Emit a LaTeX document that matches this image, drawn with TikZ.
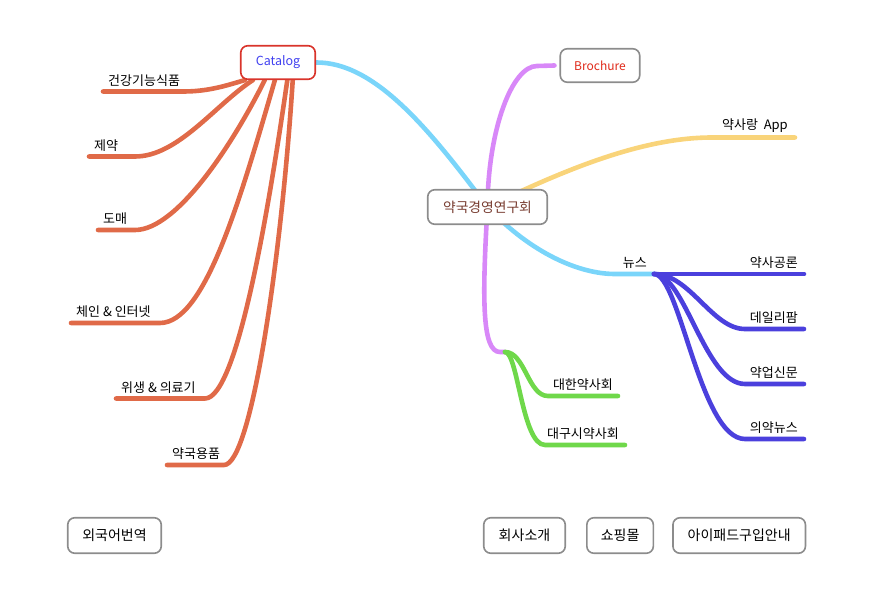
\documentclass[tikz,border=0pt]{standalone}
\usepackage{fontspec}
\setmainfont{Noto Sans CJK KR}
\usetikzlibrary{positioning,backgrounds}

\definecolor{skyblue}{RGB}{122,213,250}
\definecolor{lilac}{RGB}{216,136,248}
\definecolor{honey}{RGB}{249,212,122}
\definecolor{indigo}{RGB}{75,64,221}
\definecolor{brick}{RGB}{224,106,72}
\definecolor{leafgreen}{RGB}{111,216,74}
\definecolor{boxgray}{RGB}{140,140,140}
\definecolor{catred}{RGB}{217,52,43}
\definecolor{catblue}{RGB}{64,64,240}
\definecolor{brored}{RGB}{224,42,26}
\definecolor{hubbrown}{RGB}{120,60,48}

\begin{document}
\begin{tikzpicture}[x=1pt,y=-1pt,
    box/.style={draw=boxgray, line width=1.6pt, rounded corners=7pt, fill=white,
      inner sep=0pt, font=\fontsize{12}{14}\selectfont},
    branch/.style={line width=4.6pt, line cap=round},
    leaf/.style={inner sep=0pt, font=\fontsize{13}{15}\selectfont}]
  \useasboundingbox (0,0) rectangle (870,601);
  \node [box, minimum width=119.5pt, minimum height=34.5pt, text=hubbrown,
    font=\fontsize{13.8}{15}\selectfont] (hub) at (487.5,207) {약국경영연구회};
  \node [box, draw=catred, text=catblue, minimum width=74.5pt, minimum height=33.5pt,
    font=\fontsize{12.5}{14}\selectfont] (cat) at (278,62.5) {Catalog};
  \node [box, text=brored, minimum width=79.5pt,
    minimum height=33.5pt] (broch) at (600,65.5) {Brochure};
  % bottom row
  \node [box, minimum width=93.5pt, minimum height=35.5pt,
    font=\fontsize{14}{16}\selectfont] (trans) at (114.5,535.5) {외국어번역};
  \node [box, minimum width=81.5pt, minimum height=35.5pt,
    font=\fontsize{14}{16}\selectfont] (about) at (524.5,535.5) {회사소개};
  \node [box, minimum width=66.5pt, minimum height=35.5pt, right=20pt of about,
    font=\fontsize{14}{16}\selectfont] (shop) {쇼핑몰};
  \node [box, minimum width=132.5pt, minimum height=35.5pt, right=18pt of shop,
    font=\fontsize{14}{16}\selectfont] (ipad) {아이패드구입안내};

  % catalog leaves
  \coordinate (e1) at (103,91.5);
  \coordinate (e2) at (89,156.5);
  \coordinate (e3) at (98,230);
  \coordinate (e4) at (71,323);
  \coordinate (e5) at (116,398.5);
  \coordinate (e6) at (167,465);
  \node [leaf, above right=5pt and 5pt of e1] (l1) {건강기능식품};
  \node [leaf, above right=5pt and 5pt of e2] (l2) {제약};
  \node [leaf, above right=5pt and 5pt of e3] (l3) {도매};
  \node [leaf, above right=5pt and 5pt of e4] (l4) {체인 \& 인터넷};
  \node [leaf, above right=5pt and 5pt of e5] (l5) {위생 \& 의료기};
  \node [leaf, above right=5pt and 5pt of e6] (l6) {약국용품};

  % hub leaves
  \coordinate (app) at (795,137.5);
  \coordinate (news) at (654,274);
  \coordinate (assoc) at (505,352);
  \node [leaf, above left=5pt and 7pt of app] (lapp) {약사랑\ \ App};
  \node [leaf, above left=5pt and 7pt of news] (lnews) {뉴스};
  \coordinate (n1) at (804,274);
  \coordinate (n2) at (804,329);
  \coordinate (n3) at (804,384);
  \coordinate (n4) at (804,439);
  \node [leaf, above left=5pt and 6pt of n1] (m1) {약사공론};
  \node [leaf, above left=5pt and 6pt of n2] (m2) {데일리팜};
  \node [leaf, above left=5pt and 6pt of n3] (m3) {약업신문};
  \node [leaf, above left=5pt and 6pt of n4] (m4) {의약뉴스};
  \coordinate (g1) at (618,396);
  \coordinate (g2) at (625,445);
  \node [leaf, above left=5pt and 5pt of g1] (h1) {대한약사회};
  \node [leaf, above left=5pt and 6pt of g2] (h2) {대구시약사회};

  \begin{scope}[on background layer]
    \draw [branch, skyblue] (cat.east) .. controls (375,62) and (430,130) .. (hub.center)
      .. controls (532,254) and (580,274) .. (615,274) -- (news);
    \draw [branch, lilac] (hub.center) .. controls (488,130) and (512,66) .. (537,66)
      -- ([xshift=-5pt]broch.west);
    \draw [branch, lilac] (hub.center) .. controls (482,300) and (482,352) .. (500,352) -- (assoc);
    \draw [branch, honey] (hub.center) .. controls (560,172) and (640,137.5) .. (712,137.5) -- (app);
    \draw [branch, leafgreen] (assoc) .. controls (525,352) and (528,396) .. (548,396) -- (g1);
    \draw [branch, leafgreen] (assoc) .. controls (518,352) and (522,445) .. (545,445) -- (g2);
    \draw [branch, indigo] (news) -- (n1);
    \draw [branch, indigo] (news) .. controls (690,274) and (712,329) .. (745,329) -- (n2);
    \draw [branch, indigo] (news) .. controls (685,274) and (705,384) .. (745,384) -- (n3);
    \draw [branch, indigo] (news) .. controls (680,274) and (700,439) .. (745,439) -- (n4);
    \draw [branch, brick] (cat.-152) .. controls (225,86) and (208,91.5) .. (183,91.5) -- (e1);
    \draw [branch, brick] (cat.-145) .. controls (215,105) and (178,156.5) .. (135,156.5) -- (e2);
    \draw [branch, brick] (cat.-127) .. controls (235,140) and (178,230) .. (135,230) -- (e3);
    \draw [branch, brick] (cat.-100) .. controls (240,200) and (205,323) .. (160,323) -- (e4);
    \draw [branch, brick] (cat.-62) .. controls (270,200) and (238,398.5) .. (205,398.5) -- (e5);
    \draw [branch, brick] (cat.-50) .. controls (282,250) and (252,465) .. (224,465) -- (e6);
  \end{scope}
\end{tikzpicture}
\end{document}
